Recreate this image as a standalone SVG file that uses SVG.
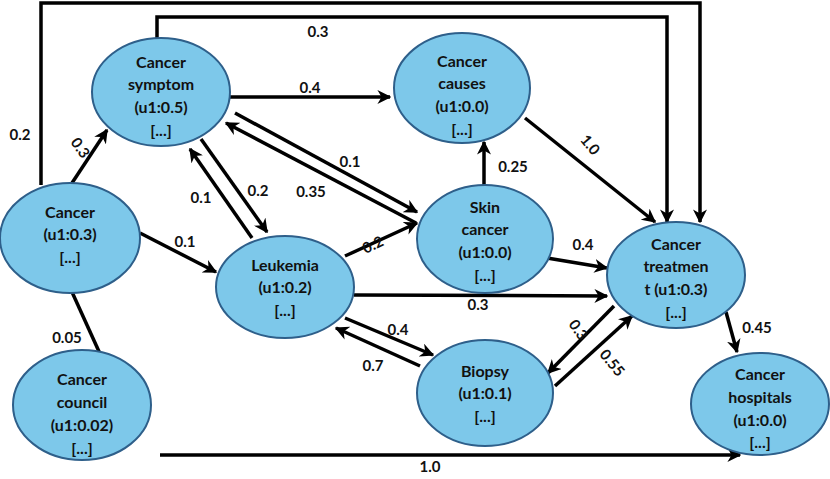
<svg xmlns="http://www.w3.org/2000/svg" width="830" height="479" viewBox="0 0 830 479">
<defs>
<marker id="a" viewBox="0 0 10 10" refX="9" refY="5" markerWidth="4" markerHeight="4" orient="auto" markerUnits="strokeWidth"><path d="M0,0 L10,5 L0,10 L3,5 z" fill="#000"/></marker>
<style>
.n{fill:#7DC8EA;stroke:#2E5F8A;stroke-width:2}
.t{font-family:Lato,"Liberation Sans",sans-serif;font-weight:bold;font-size:16px;text-anchor:middle;fill:#111}
.e{fill:none;stroke:#000;stroke-width:3.5;marker-end:url(#a)}
.l{font-family:Lato,"Liberation Sans",sans-serif;font-weight:bold;font-size:15px;text-anchor:middle;fill:#111}
</style>
</defs>
<rect width="830" height="479" fill="#fff"/>
<g id="connectors">
<path class="e" d="M41,185 V3 H700 V222"/>
<path class="e" d="M157,38 V17 H667 V222"/>
<path class="e" d="M230,97 H390"/>
<path class="e" d="M72,183 L107,130"/>
<path class="e" d="M140,233 L216,272"/>
<path class="e" d="M72,292 L106,367"/>
<path class="e" d="M160,455 H740"/>
<path class="e" d="M252,238 L190,149"/>
<path class="e" d="M201,139 L267,232"/>
<path class="e" d="M235,113 L417,212"/>
<path class="e" d="M416,223 L226,123"/>
<path class="e" d="M345,256 L417,223"/>
<path class="e" d="M484,186 V142"/>
<path class="e" d="M525,118 L655,222"/>
<path class="e" d="M547,258 L607,268"/>
<path class="e" d="M354,295 L607,296"/>
<path class="e" d="M345,318 L433,355"/>
<path class="e" d="M420,366 L336,328"/>
<path class="e" d="M614,306 L548,373"/>
<path class="e" d="M555,386 L632,316"/>
<path class="e" d="M726,312 L737,352"/>
<text class="l" x="20" y="140">0.2</text>
<text class="l" x="318" y="37">0.3</text>
<text class="l" x="310" y="93">0.4</text>
<text class="l" x="80" y="153" transform="rotate(55 80 148)">0.3</text>
<text class="l" x="185" y="247">0.1</text>
<text class="l" x="67" y="343">0.05</text>
<text class="l" x="430" y="472">1.0</text>
<text class="l" x="201" y="203">0.1</text>
<text class="l" x="258" y="196">0.2</text>
<text class="l" x="350" y="167">0.1</text>
<text class="l" x="311" y="197">0.35</text>
<text class="l" x="373" y="250" transform="rotate(-25 373 245)">0.2</text>
<text class="l" x="513" y="172">0.25</text>
<text class="l" x="590" y="150" transform="rotate(50 590 145)">1.0</text>
<text class="l" x="583" y="250">0.4</text>
<text class="l" x="478" y="310">0.3</text>
<text class="l" x="398" y="335">0.4</text>
<text class="l" x="373" y="371">0.7</text>
<text class="l" x="578" y="335" transform="rotate(55 578 330)">0.3</text>
<text class="l" x="612" y="368" transform="rotate(50 612 363)">0.55</text>
<text class="l" x="757" y="333">0.45</text>
</g>
<g id="symptom"><ellipse class="n" cx="161" cy="92" rx="69" ry="54"/><text class="t" x="161" y="68">Cancer</text><text class="t" x="161" y="90">symptom</text><text class="t" x="161" y="113">(u1:0.5)</text><text class="t" x="161" y="136">[...]</text></g>
<g id="causes"><ellipse class="n" cx="462" cy="88" rx="68" ry="55"/><text class="t" x="462" y="67">Cancer</text><text class="t" x="462" y="89">causes</text><text class="t" x="462" y="112">(u1:0.0)</text><text class="t" x="462" y="135">[...]</text></g>
<g id="cancer"><ellipse class="n" cx="70" cy="238" rx="70" ry="55"/><text class="t" x="70" y="218">Cancer</text><text class="t" x="70" y="240">(u1:0.3)</text><text class="t" x="70" y="263">[...]</text></g>
<g id="leukemia"><ellipse class="n" cx="285" cy="287" rx="69" ry="51"/><text class="t" x="285" y="271">Leukemia</text><text class="t" x="285" y="293">(u1:0.2)</text><text class="t" x="285" y="316">[...]</text></g>
<g id="skin"><ellipse class="n" cx="485" cy="239" rx="68" ry="54"/><text class="t" x="485" y="213">Skin</text><text class="t" x="485" y="235">cancer</text><text class="t" x="485" y="258">(u1:0.0)</text><text class="t" x="485" y="281">[...]</text></g>
<g id="treatment"><ellipse class="n" cx="676" cy="275" rx="69" ry="53"/><text class="t" x="676" y="250">Cancer</text><text class="t" x="676" y="272">treatmen</text><text class="t" x="676" y="295">t (u1:0.3)</text><text class="t" x="676" y="318">[...]</text></g>
<g id="biopsy"><ellipse class="n" cx="485" cy="393" rx="68" ry="53"/><text class="t" x="485" y="377">Biopsy</text><text class="t" x="485" y="399">(u1:0.1)</text><text class="t" x="485" y="422">[...]</text></g>
<g id="council"><ellipse class="n" cx="82" cy="405" rx="69" ry="55"/><text class="t" x="82" y="385">Cancer</text><text class="t" x="82" y="408">council</text><text class="t" x="82" y="431">(u1:0.02)</text><text class="t" x="82" y="454">[...]</text></g>
<g id="hospitals"><ellipse class="n" cx="760" cy="404" rx="69" ry="51"/><text class="t" x="760" y="380">Cancer</text><text class="t" x="760" y="403">hospitals</text><text class="t" x="760" y="426">(u1:0.0)</text><text class="t" x="760" y="448">[...]</text></g>
</svg>
